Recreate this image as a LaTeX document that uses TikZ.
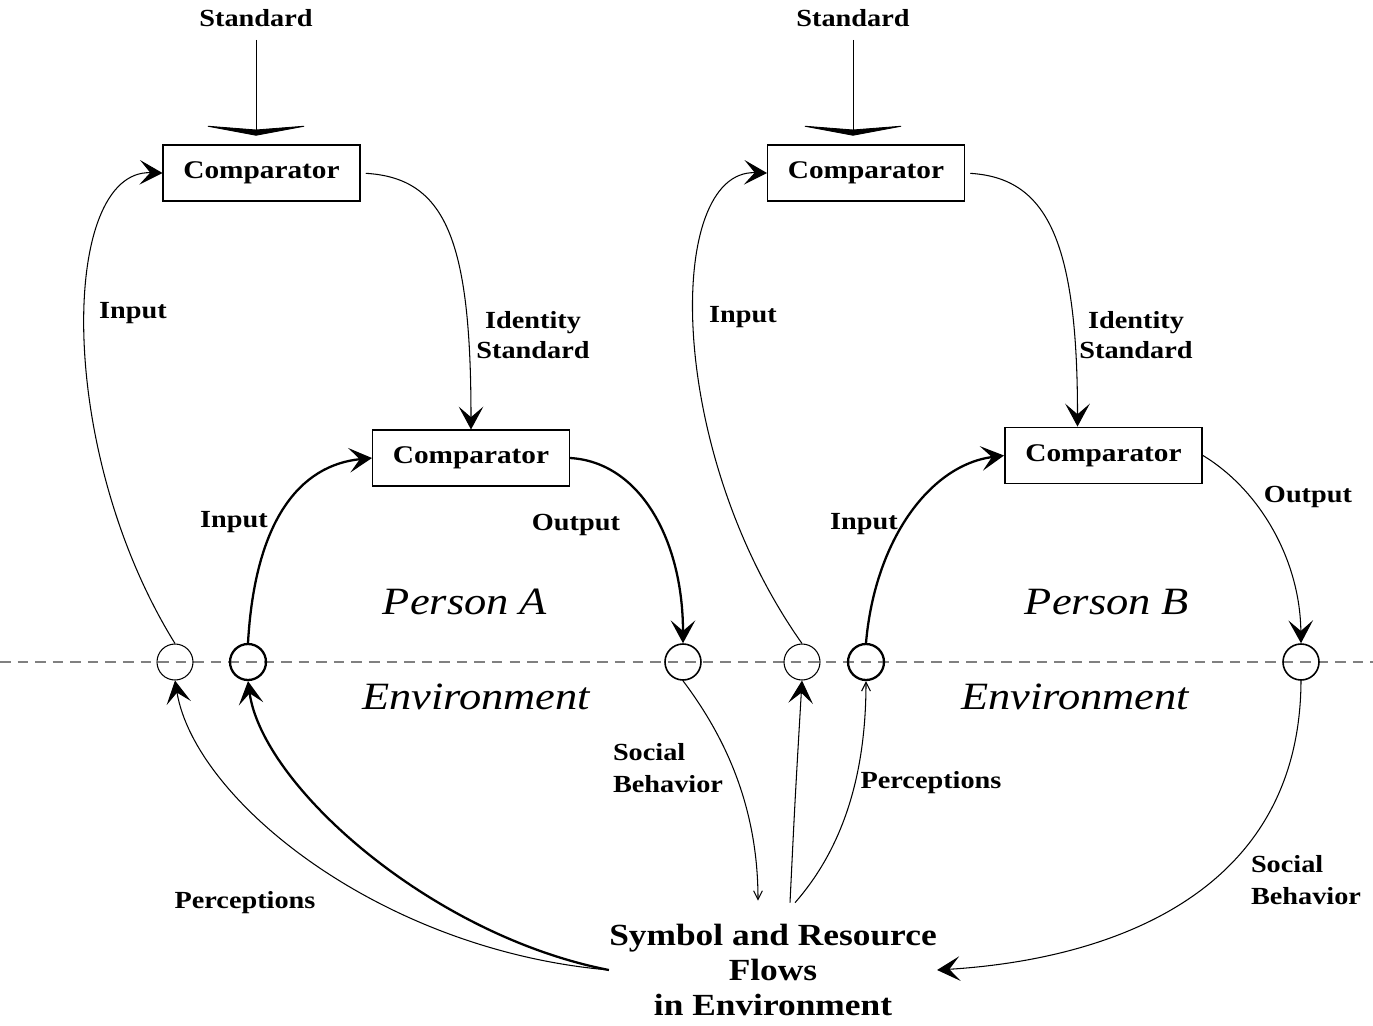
\documentclass[tikz,border=0pt]{standalone}
\usepackage{fontspec}
\setmainfont{Liberation Serif}[FakeStretch=1.15]
\usetikzlibrary{arrows.meta}

\begin{document}
\begin{tikzpicture}[x=0.02cm,y=-0.02cm,
    lbl/.style={font=\fontsize{14}{17}\selectfont\bfseries,align=center},
    lbll/.style={font=\fontsize{14}{18}\selectfont\bfseries,align=left},
    big/.style={font=\fontsize{22}{26}\selectfont\itshape},
    comp/.style={draw,line width=0.6pt,minimum width=3.94cm,minimum height=1.12cm,font=\fontsize{14.5}{17}\selectfont\bfseries},
    port/.style={draw,circle,minimum size=0.72cm,inner sep=0pt},
    thinl/.style={line width=0.6pt},
    thickl/.style={line width=1.3pt},
    tip/.style={-{Stealth[length=13pt,width=14pt,inset=6pt]}},
    smalltip/.style={-{Straight Barb[length=5pt,width=5pt]}},
    stdtip/.style={-{Stealth[length=6pt,width=64pt,inset=2.5pt]}}]

\useasboundingbox (0,0) rectangle (1373,1025);

% boundary between person and environment
\draw[gray,line width=0.8pt,dash pattern=on 6pt off 4pt] (0,662) -- (1373,662);

% Person A
\node[lbl] (stdA) at (256,18) {Standard};
\node[comp] (topA) at (261.5,173) {Comparator};
\node[comp] (midA) at (471,458) {Comparator};
\node[port,thinl] (pA1) at (175,662) {};
\node[port,thickl] (pA2) at (248,662) {};
\node[port,line width=0.9pt] (pA3) at (683,662) {};
\node[lbl] (inA1) at (133,313) {Input};
\node[lbl] (idA) at (533,335) {Identity\\Standard};
\node[lbl] (inA2) at (234,522) {Input};
\node[lbl] (outA) at (576,525) {Output};
\node[big] (perA) at (465,602) {Person A};
\node[big] (envA) at (476,697) {Environment};
\node[lbll] (socA) at (668,768) {Social\\Behavior};
\node[lbl] (pcA) at (245,903) {Perceptions};

% Person B
\node[lbl] (stdB) at (853,18) {Standard};
\node[comp] (topB) at (866,173) {Comparator};
\node[comp,line width=1.1pt] (midB) at (1103.5,455.5) {Comparator};
\node[port,thinl] (pB1) at (802,662) {};
\node[port,thickl] (pB2) at (866,662) {};
\node[port,line width=0.9pt] (pB3) at (1301,662) {};
\node[lbl] (inB1) at (743,317) {Input};
\node[lbl] (idB) at (1136,335) {Identity\\Standard};
\node[lbl] (inB2) at (864,524) {Input};
\node[lbl] (outB) at (1308,497) {Output};
\node[big] (perB) at (1107,602) {Person B};
\node[big] (envB) at (1075,697) {Environment};
\node[lbl] (pcB) at (931,783) {Perceptions};
\node[lbll] (socB) at (1306,880) {Social\\Behavior};

% environment
\node[font=\fontsize{17.5}{20}\selectfont\bfseries,align=center,inner sep=0pt] (sym) at (773,970)
    {Symbol and Resource\\Flows\\in Environment};
\coordinate (symA) at ([shift={(-15,-23)}]sym.north);
\coordinate (symB1) at ([shift={(17,-21)}]sym.north);
\coordinate (symB2) at ([shift={(22,-21)}]sym.north);

% loops of A
\draw[line width=0.5pt,stdtip,shorten <=4pt,shorten >=5pt] (stdA.south) -- (stdA.south |- topA.north);
\draw[thinl,tip,shorten <=3pt] (topA.east) .. controls +(85,5) and +(0,-190) .. (midA.north);
\draw[thinl,tip] (pA1.north) .. controls (55,450) and (60,170) .. (topA.west);
\draw[thickl,tip] (pA2.north) .. controls (255,520) and (300,465) .. (midA.west);
\draw[thickl,tip] (midA.east) .. controls (640,462) and (683,540) .. (pA3.north);
\draw[thinl,smalltip] (pA3.south) .. controls (720,730) and (758,800) .. (symA);
\draw[thinl,tip] (sym.west) .. controls (380,950) and (195,800) .. (pA1.south);
\draw[thickl,tip] (sym.west) .. controls (430,935) and (262,785) .. (pA2.south);

% loops of B
\draw[line width=0.5pt,stdtip,shorten <=4pt,shorten >=5pt] (stdB.south) -- (stdB.south |- topB.north);
\draw[thinl,tip,shorten <=3pt] (topB.east) .. controls +(80,5) and +(0,-190) .. ([xshift=-0.52cm]midB.north);
\draw[thinl,tip] (pB1.north) .. controls (665,450) and (665,170) .. (topB.west);
\draw[thickl,tip] (pB2.north) .. controls (875,540) and (930,465) .. (midB.west);
\draw[thinl,tip] (midB.east) .. controls (1260,490) and (1300,560) .. (pB3.north);
\draw[thinl,tip] (pB3.south) .. controls (1300,900) and (1100,960) .. (sym.east);
\draw[thinl,tip] (symB1) .. controls (795,800) .. (pB1.south);
\draw[thinl,smalltip] (symB2) .. controls (850,840) and (866,760) .. (pB2.south);
\end{tikzpicture}
\end{document}
